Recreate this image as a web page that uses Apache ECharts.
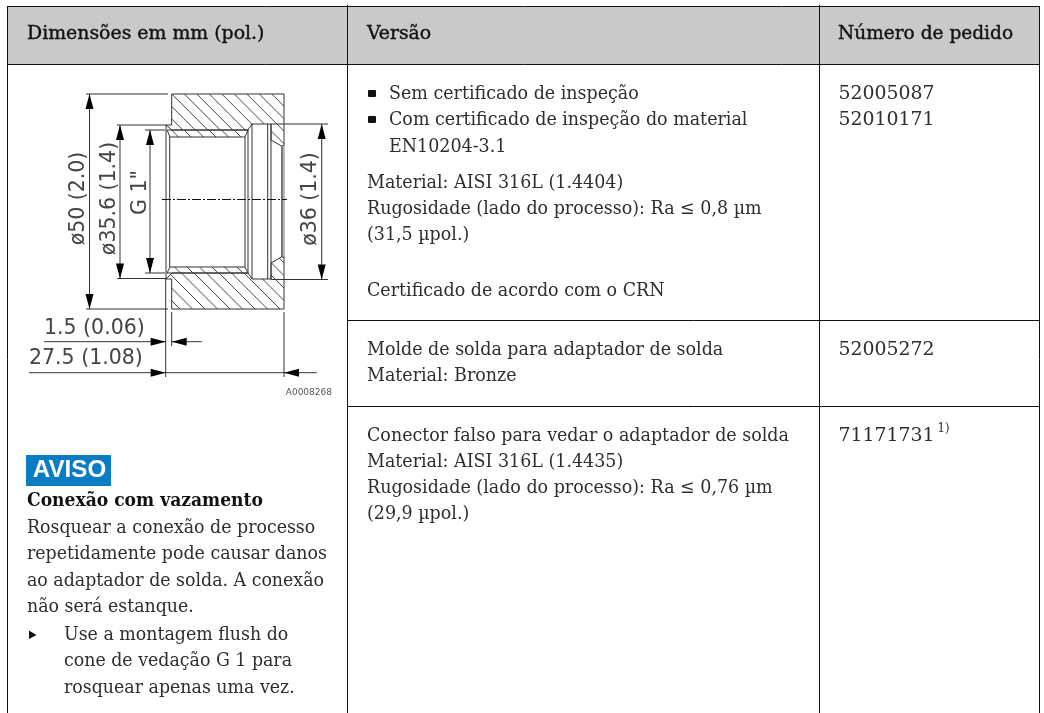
<!DOCTYPE html>
<html><head><meta charset="utf-8">
<style>html,body{margin:0;padding:0;background:#fff}#c{width:1044px;height:713px}</style>
<script src="https://cdn.jsdelivr.net/npm/echarts@6/dist/echarts.min.js"></script>
</head><body><div id="c"></div>
<script>
var headers = ["Dimensões em mm (pol.)", "Versão", "Número de pedido"];
var versionLines = ["Sem certificado de inspeção","Com certificado de inspeção do material","EN10204-3.1","Material: AISI 316L (1.4404)","Rugosidade (lado do processo): Ra ≤ 0,8 µm","(31,5 µpol.)","Certificado de acordo com o CRN","Molde de solda para adaptador de solda","Material: Bronze","Conector falso para vedar o adaptador de solda","Material: AISI 316L (1.4435)","Rugosidade (lado do processo): Ra ≤ 0,76 µm","(29,9 µpol.)"];
var versionX = [389,389,389,367,367,367,367,367,367,367,367,367,367];
var versionY = [94,120,147,183,209,235,291,350,376,436,462,488,514];
var orderNumbers = ["52005087","52010171","52005272","71171731"];
var orderY = [94,120,350,436];
var noticeTitle = "Conexão com vazamento";
var noticeLines = ["Rosquear a conexão de processo","repetidamente pode causar danos","ao adaptador de solda. A conexão","não será estanque.","Use a montagem flush do","cone de vedação G 1 para","rosquear apenas uma vez."];
var noticeX = [27,27,27,27,64,64,64];
var noticeY = [528,554,581,607,635,661,688];
var SERIF = '"DejaVu Serif Condensed","DejaVu Serif",serif', SANS='"DejaVu Sans",sans-serif';
var RIGHT=1039.5, BODY=18.5, BODYSX=1.05;
var G = [];
function txt(s,x,y,o){o=o||{};var e={type:'text',x:x,y:y,rotation:o.rot||0,z:5,style:{text:s,fill:o.c||'#2e2e2e',font:(o.w||'normal')+' '+(o.s||BODY)+'px '+(o.f||SERIF),textAlign:o.a||'left',textVerticalAlign:'middle'}};if(o.sx)e.scaleX=o.sx;if(o.st){e.style.stroke=o.c;e.style.lineWidth=o.st;}G.push(e);}
function ln(x1,y1,x2,y2,c,w){G.push({type:'line',z:3,shape:{x1:x1,y1:y1,x2:x2,y2:y2},style:{stroke:c||'#333',lineWidth:w||1}});}
function poly(p,c){G.push({type:'polygon',z:4,shape:{points:p},style:{fill:c||'#000'}});}
function pl(p,c,w){G.push({type:'polyline',z:3,shape:{points:p},style:{stroke:c||'#333',lineWidth:w||1,fill:'none'}});}
function hatch(P,off,step){
  for(var k=-400;k<600;k+=step){var c=k+off,xs=[];
    for(var i=0;i<P.length;i++){var a=P[i],b=P[(i+1)%P.length];
      var fa=a[1]-a[0]-c,fb=b[1]-b[0]-c; if((fa<0)!==(fb<0)){var t=fa/(fa-fb);xs.push(a[0]+t*(b[0]-a[0]));}}
    xs.sort(function(m,n){return m-n});
    for(var j=0;j+1<xs.length;j+=2)ln(xs[j],xs[j]+c,xs[j+1],xs[j+1]+c,'#333',0.9);}
}
G.push({type:'rect',z:1,shape:{x:7.5,y:6.5,width:RIGHT-7.5,height:58},style:{fill:'#c9c9c9'}});
var L='#111';
ln(7.5,6.5,RIGHT,6.5,L);ln(7.5,64.5,RIGHT,64.5,L);
ln(7.5,6,7.5,713,L);ln(347.5,5,347.5,713,L);ln(819.5,5,819.5,713,L);ln(RIGHT,6,RIGHT,713,L);
ln(347.5,320.5,RIGHT,320.5,L);ln(347.5,406.5,RIGHT,406.5,L);
var hopt={s:19,w:'normal',c:'#111',st:0.35,sx:1.105};
txt(headers[0],27,34.5,hopt);txt(headers[1],367,34.5,hopt);txt(headers[2],838,34.5,{s:19,w:'normal',c:'#111',st:0.35,sx:1.085});
versionLines.forEach(function(s,i){txt(s,versionX[i],versionY[i],{sx:BODYSX});});
orderNumbers.forEach(function(s,i){txt(s,838.5,orderY[i],{sx:1.135});});
txt("1)",937.5,429,{s:13,sx:1.0});
[93.5,119.5].forEach(function(y){G.push({type:'rect',z:4,shape:{x:368,y:y-3.5,width:8,height:7,r:1},style:{fill:'#111'}});});
G.push({type:'rect',z:1,shape:{x:26,y:455,width:85,height:31},style:{fill:'#0a7cc4'}});
txt("AVISO",69.5,471,{s:23,w:'bold',f:'"Liberation Sans",Arial,sans-serif',c:'#fff',a:'center',sx:1.05});
txt(noticeTitle,27,501,{w:'bold',c:'#111',s:18.5,sx:1.03});
noticeLines.forEach(function(s,i){txt(s,noticeX[i],noticeY[i],{sx:1.045});});
poly([[29,630.5],[29,639],[36.5,635]],'#111');
var top1=[[171.7,94],[284,94],[284,145.5],[281.5,146],[271,140],[271,124],[252,124],[248,130],[172,130],[166,125],[171.7,125]];
var bot1=[[171.7,309],[284,309],[284,257],[281.5,257],[271,263],[271,279],[252,279],[248,273],[172,273],[166,279],[171.7,279]];
var th1=[[167,130],[248,130],[245,137],[170,137]], th2=[[167,273],[248,273],[245,267],[170,267]];
hatch(top1,9.7,12.5);hatch(bot1,4,12.5);hatch(th1,8.5,12.5);hatch(th2,5,12.5);
var D='#333';
pl(top1.concat([top1[0]]),D,1);pl(bot1.concat([bot1[0]]),D,1);
pl(th1.concat([th1[0]]),D,1);pl(th2.concat([th2[0]]),D,1);
ln(166,125,166,279,D,1);ln(169.7,137,169.7,267,D,1);
ln(245,137,245,267,D,1);ln(248,130,248,273,D,1);
ln(252,124,252,279,D,1);ln(267.7,124,267.7,279,D,1);ln(271,124,271,279,D,1);
ln(282,146,282,257,'#555',1.6);ln(284,146,284,257,'#777',1);
G.push({type:'line',z:4,shape:{x1:162,y1:199.5,x2:287,y2:199.5},style:{stroke:'#111',lineWidth:1,lineDash:[9,2,2,2]}});
function varrow(x,y,dir){poly([[x,y],[x-4,y+dir*15],[x+4,y+dir*15]],'#000');}
function harrow(x,y,dir){poly([[x,y],[x+dir*15,y-4],[x+dir*15,y+4]],'#000');}
ln(86,94,168,94,D);ln(86,309,168,309,D);ln(89.5,94,89.5,309,D);varrow(89.5,94,1);varrow(89.5,309,-1);
ln(117,125,166,125,D);ln(117,278.5,166,278.5,D);ln(120,125,120,278.5,D);varrow(120,125,1);varrow(120,278.5,-1);
ln(145,130,165,130,D);ln(145,273,165,273,D);ln(150,130,150,273,D);varrow(150,130,1);varrow(150,273,-1);
ln(271,124,328,124,D);ln(271,279.5,328,279.5,D);ln(321.7,124,321.7,279.5,D);varrow(321.7,124,1);varrow(321.7,279.5,-1);
ln(165.7,279,165.7,377,D);ln(171.7,312,171.7,346,D);ln(284,312,284,377,D);
ln(44,341.7,165.7,341.7,D);ln(171.7,341.7,201.7,341.7,D);harrow(165.7,341.7,-1);harrow(171.7,341.7,1);
ln(29,372.7,316.7,372.7,D);harrow(165.7,372.7,-1);harrow(284,372.7,1);
var dimC='#444',ds=20.5;
txt("1.5 (0.06)",44,329,{f:SANS,s:ds,c:dimC});txt("27.5 (1.08)",29,359,{f:SANS,s:ds,c:dimC});
txt("ø50 (2.0)",79,198.5,{f:SANS,s:ds,c:dimC,a:'center',rot:Math.PI/2});
txt("ø35.6 (1.4)",110,198.5,{f:SANS,s:ds,c:dimC,a:'center',rot:Math.PI/2});
txt('G 1"',141,192.5,{f:SANS,s:ds,c:dimC,a:'center',rot:Math.PI/2});
txt("ø36 (1.4)",311,199,{f:SANS,s:ds,c:dimC,a:'center',rot:Math.PI/2});
txt("A0008268",332,393,{f:SANS,s:9,c:'#555',a:'right'});
var chart=echarts.init(document.getElementById('c'),null,{renderer:'canvas'});
chart.setOption({animation:false,backgroundColor:'#fff',graphic:{elements:G}});
</script></body></html>
